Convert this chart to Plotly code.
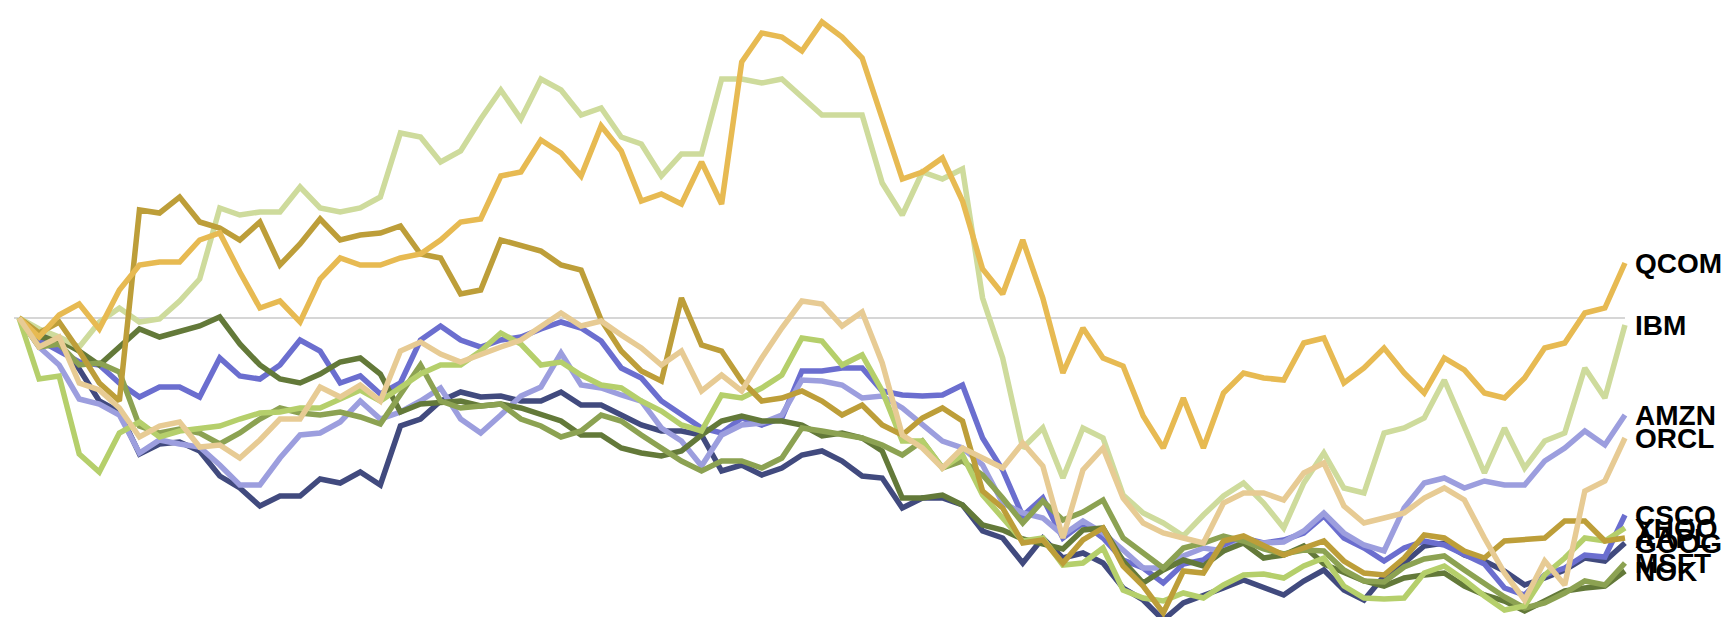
import plotly.graph_objects as go

# trading-day index (shared x for all series)
days = list(range(81))

# percent change vs. first day
goog = [0.0, -1.5, -2.6, -5.1, -8.3, -9.4, -13.6, -12.6, -12.4, -13.3,
        -15.8, -17.0, -18.8, -17.8, -17.8, -16.1, -16.5, -15.4, -16.7, -10.8,
        -10.1, -8.3, -7.4, -7.9, -7.8, -8.3, -8.3, -7.4, -8.7, -8.7,
        -9.7, -10.7, -11.3, -11.3, -11.7, -15.3, -14.7, -15.7, -15.0, -13.7,
        -13.3, -14.3, -15.8, -16.0, -19.0, -18.0, -18.0, -18.7, -21.3, -22.0,
        -24.5, -22.0, -24.0, -23.5, -24.5, -27.0, -28.2, -30.2, -28.5, -27.8,
        -27.0, -26.2, -27.0, -27.7, -26.3, -25.2, -27.2, -28.2, -25.8, -24.5,
        -22.8, -22.5, -23.7, -24.3, -25.3, -26.7, -26.0, -25.2, -24.0, -24.3, -22.5]

csco = [0.0, -2.2, -3.3, -4.4, -4.7, -6.5, -7.9, -6.9, -6.9, -7.9,
        -4.0, -5.8, -6.1, -4.7, -2.2, -3.3, -6.5, -5.8, -7.6, -6.5,
        -2.2, -0.8, -2.2, -2.9, -2.2, -1.9, -1.1, -0.4, -1.0, -2.3,
        -5.0, -6.0, -8.3, -9.7, -11.0, -11.5, -10.0, -10.7, -10.0, -5.3,
        -5.3, -5.0, -5.0, -7.3, -7.7, -7.8, -7.7, -6.7, -12.0, -15.2,
        -19.8, -18.0, -22.0, -20.5, -22.0, -24.2, -25.0, -26.5, -24.6, -24.2,
        -22.7, -22.0, -22.5, -22.2, -21.5, -19.8, -22.0, -23.0, -24.3, -23.0,
        -22.3, -22.7, -23.7, -24.6, -27.0, -27.7, -25.7, -25.0, -23.7, -23.9, -19.7]

amzn = [0.0, -2.9, -4.7, -8.1, -8.6, -9.7, -13.5, -12.2, -12.6, -12.9,
        -14.7, -16.7, -16.7, -14.0, -11.7, -11.5, -10.4, -8.3, -10.1, -9.4,
        -8.3, -7.0, -10.1, -11.5, -9.7, -7.8, -6.9, -3.5, -6.7, -7.0,
        -7.7, -8.3, -11.0, -12.3, -14.8, -11.7, -10.7, -10.5, -9.7, -6.2,
        -6.3, -6.7, -8.0, -7.8, -9.0, -10.7, -12.3, -13.0, -14.7, -18.5,
        -19.5, -20.0, -21.7, -20.3, -21.5, -23.2, -25.0, -25.0, -23.8, -23.0,
        -23.3, -22.3, -22.5, -22.4, -21.3, -19.5, -21.5, -22.7, -23.3, -19.0,
        -16.5, -16.0, -17.0, -16.3, -16.7, -16.7, -14.3, -13.0, -11.3, -12.7, -9.7]

nok = [0.0, -1.9, -2.2, -3.3, -4.7, -2.9, -1.1, -1.9, -1.3, -0.8,
       0.1, -2.6, -4.7, -6.1, -6.5, -5.6, -4.4, -4.0, -5.6, -9.4,
       -8.6, -8.5, -8.3, -8.8, -8.6, -9.0, -9.7, -10.3, -11.7, -11.7,
       -13.0, -13.5, -13.8, -13.3, -11.7, -10.3, -9.8, -10.3, -10.3, -10.7,
       -11.8, -11.5, -12.0, -13.3, -18.0, -18.0, -17.7, -18.7, -20.7, -21.2,
       -22.1, -22.6, -23.1, -21.2, -21.0, -24.3, -26.5, -25.2, -24.2, -24.8,
       -23.3, -22.5, -24.0, -23.7, -22.8, -24.6, -25.4, -26.3, -26.8, -26.0,
       -25.7, -25.5, -26.8, -27.7, -28.3, -29.3, -28.3, -27.3, -27.0, -26.8, -25.3]

msft = [0.0, -2.9, -2.6, -4.7, -4.5, -5.4, -10.8, -11.5, -11.1, -11.5,
        -12.6, -11.5, -10.1, -9.0, -9.5, -9.7, -9.4, -9.9, -10.6, -7.6,
        -4.7, -8.3, -9.0, -8.8, -8.6, -10.1, -10.8, -11.9, -11.3, -9.7,
        -10.3, -11.7, -13.0, -14.3, -15.3, -14.3, -14.3, -15.0, -14.0, -11.0,
        -11.3, -11.7, -12.0, -12.7, -13.7, -12.3, -15.0, -14.3, -15.7, -18.0,
        -20.5, -18.3, -20.2, -19.4, -18.2, -22.0, -23.5, -25.0, -23.0, -22.5,
        -21.8, -22.3, -23.1, -23.6, -23.2, -23.3, -25.2, -26.3, -26.4, -24.9,
        -24.1, -23.8, -25.2, -26.6, -27.9, -29.0, -28.5, -27.5, -26.3, -26.7, -24.5]

yhoo = [0.0, -6.1, -5.8, -13.6, -15.4, -11.5, -10.4, -11.9, -11.3, -11.1,
        -10.8, -10.1, -9.5, -9.4, -9.0, -9.0, -8.1, -7.2, -8.3, -6.9,
        -5.6, -4.7, -4.7, -3.3, -1.5, -2.6, -4.7, -4.4, -5.7, -6.7,
        -7.0, -8.3, -9.3, -10.7, -11.3, -7.7, -8.0, -7.0, -5.7, -2.0,
        -2.3, -4.7, -3.7, -7.3, -12.3, -12.3, -15.0, -13.7, -17.7, -20.0,
        -22.3, -22.0, -24.7, -24.5, -23.0, -27.2, -28.0, -28.3, -27.5, -28.0,
        -26.7, -25.7, -25.6, -26.0, -24.8, -24.0, -26.8, -28.0, -28.1, -28.0,
        -25.5, -24.8, -26.2, -27.8, -29.2, -28.8, -25.7, -24.0, -22.0, -22.3, -21.0]

ibm = [0.0, -1.1, -1.9, -2.9, -0.4, 1.0, -0.4, -0.1, 1.7, 3.9,
       11.0, 10.3, 10.6, 10.6, 13.1, 11.0, 10.6, 11.0, 12.1, 18.5,
       18.1, 15.6, 16.7, 19.9, 22.8, 19.9, 23.9, 22.8, 20.3, 21.0,
       18.1, 17.4, 14.2, 16.4, 16.4, 23.9, 23.9, 23.5, 23.9, 22.1,
       20.3, 20.3, 20.3, 13.5, 10.3, 14.6, 13.9, 14.9, 2.0, -4.0,
       -13.0, -11.0, -16.0, -11.0, -12.0, -17.7, -19.5, -20.5, -21.8, -19.7,
       -17.8, -16.5, -18.5, -21.0, -16.5, -13.5, -17.0, -17.5, -11.5, -11.0,
       -10.0, -6.2, -11.0, -15.5, -11.0, -15.0, -12.3, -11.5, -5.0, -8.0, -0.7]

aapl = [0.0, -1.5, -0.4, -3.3, -6.5, -8.3, 10.8, 10.5, 12.1, 9.6,
        9.0, 7.8, 9.6, 5.3, 7.4, 9.9, 7.8, 8.3, 8.5, 9.2,
        6.4, 6.0, 2.4, 2.8, 7.8, 7.2, 6.7, 5.3, 4.8, -0.2,
        -3.3, -5.3, -6.3, 2.0, -2.7, -3.3, -6.3, -8.3, -8.0, -7.3,
        -8.3, -9.7, -8.7, -10.7, -11.7, -10.0, -9.0, -10.3, -17.3, -19.0,
        -22.5, -22.2, -24.5, -22.2, -21.0, -24.8, -26.8, -29.5, -25.3, -25.5,
        -22.3, -21.8, -22.7, -23.7, -23.0, -22.3, -24.3, -25.5, -25.7, -24.0,
        -21.7, -22.0, -23.3, -24.0, -22.3, -22.2, -22.0, -20.3, -20.3, -22.3, -22.0]

qcom = [0.0, -1.9, 0.3, 1.4, -1.1, 2.8, 5.3, 5.6, 5.6, 7.8,
        8.5, 4.6, 1.0, 1.7, -0.4, 3.9, 6.0, 5.3, 5.3, 6.0,
        6.4, 7.8, 9.6, 9.9, 14.2, 14.6, 17.8, 16.5, 14.2, 19.2,
        16.7, 11.7, 12.4, 11.4, 15.6, 11.4, 25.6, 28.5, 28.1, 26.7,
        29.6, 28.1, 26.0, 19.9, 13.9, 14.6, 16.0, 11.7, 4.9, 2.4,
        7.8, 2.0, -5.5, -1.0, -4.0, -4.8, -9.8, -13.0, -8.0, -13.0,
        -7.5, -5.5, -6.0, -6.2, -2.5, -2.0, -6.5, -5.0, -3.0, -5.5,
        -7.5, -4.0, -5.2, -7.5, -8.0, -6.0, -3.0, -2.5, 0.5, 1.0, 5.5]

orcl = [0.0, -2.9, -1.9, -6.5, -7.2, -9.0, -11.9, -10.8, -10.4, -12.9,
        -12.7, -14.0, -12.2, -10.1, -10.1, -6.9, -7.9, -6.7, -8.3, -3.3,
        -2.4, -3.6, -4.4, -3.6, -2.9, -2.2, -0.8, 0.5, -0.8, -0.3,
        -1.7, -3.0, -4.7, -3.3, -7.3, -5.7, -7.3, -4.0, -1.0, 1.7,
        1.4, -0.8, 0.6, -4.5, -11.7, -13.0, -15.0, -13.0, -14.0, -15.0,
        -12.5, -14.8, -22.0, -15.2, -13.0, -18.0, -20.5, -21.5, -22.0, -22.5,
        -18.5, -17.5, -17.5, -18.2, -15.5, -14.5, -18.8, -20.5, -20.0, -19.5,
        -18.0, -17.0, -18.2, -22.0, -25.5, -28.2, -24.3, -26.7, -17.3, -16.3, -12.0]

symbols = ["GOOG", "CSCO", "AMZN", "NOK", "MSFT", "YHOO", "IBM", "AAPL", "QCOM", "ORCL"]
series = [goog, csco, amzn, nok, msft, yhoo, ibm, aapl, qcom, orcl]
colors = ["#414a7e", "#6b6ecf", "#9c9ede", "#637939", "#8ca252",
          "#b5cf6b", "#cedb9c", "#bd9e39", "#e7ba52", "#e7cb94"]

fig = go.Figure()
for name, vals, col in zip(symbols, series, colors):
    fig.add_trace(go.Scatter(x=days, y=vals, mode="lines", name=name,
                             line=dict(color=col, width=5.5), hoverinfo="skip"))
    fig.add_annotation(x=days[-1], y=vals[-1], text="<b>%s</b>" % name,
                       showarrow=False, xanchor="left", yanchor="middle",
                       xshift=8, font=dict(family="Liberation Sans, Arial",
                                           size=28, color="black"))

fig.add_shape(type="line", x0=-0.25, x1=days[-1], y0=0, y1=0,
              line=dict(color="#c8c8c8", width=1.5), layer="below")

fig.update_layout(
    width=1733, height=617,
    margin=dict(l=0, r=0, t=0, b=0),
    paper_bgcolor="white", plot_bgcolor="white",
    showlegend=False,
    xaxis=dict(range=[-0.548, 85.78], visible=False, fixedrange=True),
    yaxis=dict(range=[-30.7, 31.0], visible=False, fixedrange=True),
)

fig.write_html("out.html")
